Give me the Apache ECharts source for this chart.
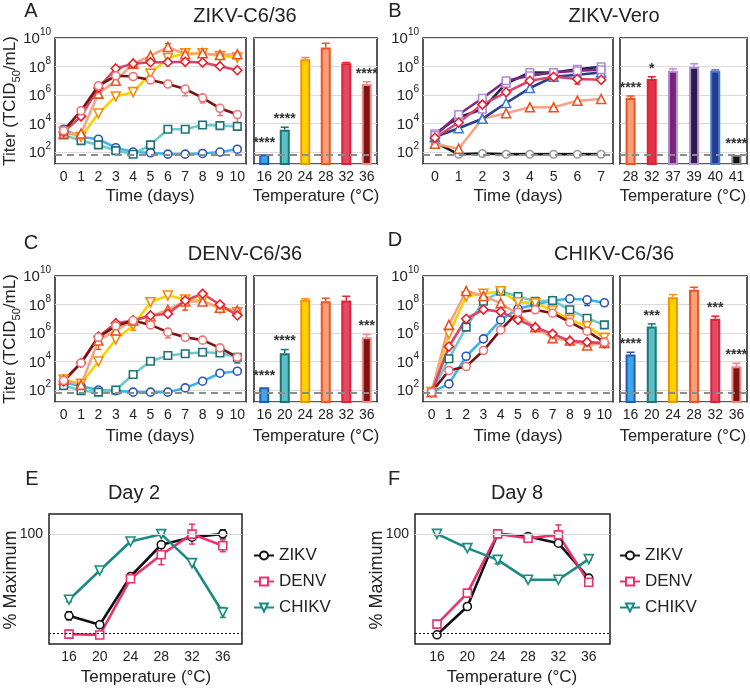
<!DOCTYPE html>
<html><head><meta charset="utf-8">
<script src="https://cdn.jsdelivr.net/npm/echarts@6/dist/echarts.min.js"></script>
<style>html,body{margin:0;padding:0;background:#fff}#c{width:750px;height:689px}</style>
</head><body><div id="c"></div>
<script>
const FONT = 'Liberation Sans, Arial, Helvetica, sans-serif';

// ---------- DATA (log10 titer, TCID50/mL) ----------
const days10 = [0,1,2,3,4,5,6,7,8,9,10];
const days7 = [0,1,2,3,4,5,6,7];
const tempsC636 = ['16','20','24','28','32','36'];
const tempsVero = ['28','32','37','39','40','41'];
const LOD = 1.845; // log10(70)

// A: ZIKV-C6/36
const A16 = [3.6, 3.05, 2.9, 2.3, 2.0, 1.95, 1.85, 1.85, 1.9, 2.0, 2.2];
const A20 = [3.2, 2.8, 2.5, 2.1, 1.84, 2.5, 3.6, 3.6, 3.9, 3.85, 3.8];
const A24 = [3.4, 3.05, 4.7, 5.9, 6.2, 7.5, 8.6, 8.93, 8.93, 8.74, 8.63];
const A28 = [3.3, 3.3, 6.1, 7.0, 8.2, 8.75, 9.37, 8.86, 8.93, 8.81, 8.86];
const A32 = [3.4, 4.5, 6.5, 7.86, 8.2, 8.3, 8.3, 8.33, 8.28, 8.02, 7.74];
const A36 = [3.5, 4.9, 6.65, 7.35, 7.3, 7.05, 6.77, 6.42, 5.8, 5.07, 4.63];
const A_bar = [1.84, 3.56, 8.51, 9.33, 8.23, 6.77];
const A_err = [null, 3.74, 8.63, 9.63, 8.28, 6.93];
const A_sig = ['****', '****', '', '', '', '****'];
// error bars on time courses: day, low, high, temperature
const A_ebDay  = [6, 7, 8, 9, 10];
const A_ebLo   = [9.37, 5.95, 5.45, 4.56, 4.0];
const A_ebHi   = [9.6, 6.42, 5.8, 5.07, 4.63];
const A_ebTemp = ['t28', 't36', 't36', 't36', 't36'];

// B: ZIKV-Vero
const B28 = [2.58, 2.23, 4.33, 4.72, 5.14, 5.14, 5.6, 5.72];
const B32 = [3.0, 4.07, 5.33, 6.19, 7.0, 7.28, 7.12, 7.07];
const B37 = [3.16, 4.63, 5.77, 7.0, 7.35, 7.58, 7.7, 7.77];
const B39 = [3.28, 4.44, 5.0, 6.81, 7.58, 7.58, 7.81, 7.98];
const B40 = [3.05, 3.67, 4.33, 5.44, 6.49, 7.28, 7.42, 7.58];
const B41 = [2.7, 1.84, 1.9, 1.84, 1.84, 1.84, 1.84, 1.84];
const B_bar = [5.79, 7.12, 7.7, 7.98, 7.7, 1.81];
const B_err = [5.93, 7.28, 7.84, 8.19, 7.77, null];
const B_sig = ['****', '*', '', '', '', '****'];
const B_ebDay  = [6];
const B_ebLo   = [6.77];
const B_ebHi   = [7.12];
const B_ebTemp = ['t32'];

// C: DENV-C6/36
const C16 = [2.55, 2.27, 2.0, 1.96, 1.85, 1.85, 1.85, 2.15, 2.62, 3.18, 3.32];
const C20 = [2.32, 1.96, 1.85, 2.0, 3.09, 4.02, 4.42, 4.54, 4.65, 4.6, 4.3];
const C24 = [2.74, 2.43, 4.0, 5.54, 6.53, 8.16, 8.63, 8.35, 8.33, 7.7, 7.46];
const C28 = [2.7, 2.36, 5.47, 6.18, 6.88, 7.16, 7.63, 8.21, 8.21, 7.77, 7.58];
const C32 = [2.6, 3.9, 5.75, 6.69, 6.88, 7.23, 7.35, 8.28, 8.75, 8.0, 7.23];
const C36 = [2.67, 3.9, 5.7, 6.5, 6.88, 6.57, 6.06, 5.7, 5.5, 4.96, 4.3];
const C_bar = [2.2, 4.58, 8.33, 8.23, 8.28, 5.71];
const C_err = [null, 4.84, 8.4, 8.44, 8.58, 5.9];
const C_sig = ['****', '****', '', '', '', '***'];
const C_ebDay  = [2, 7, 4, 6, 10];
const C_ebLo   = [4.85, 7.6, 6.2, 5.66, 3.9];
const C_ebHi   = [5.47, 8.21, 6.53, 6.06, 4.3];
const C_ebTemp = ['t28', 't28', 't24', 't36', 't20'];

// D: CHIKV-C6/36
const D16 = [1.85, 2.43, 4.37, 5.59, 6.92, 7.7, 8.0, 8.28, 8.4, 8.33, 8.12];
const D20 = [1.85, 4.19, 6.41, 8.23, 8.93, 8.56, 8.23, 8.28, 7.63, 7.04, 6.57];
const D24 = [1.85, 5.94, 8.56, 8.75, 8.93, 8.16, 8.1, 7.58, 6.92, 6.48, 5.66];
const D28 = [1.85, 6.57, 8.95, 8.6, 8.1, 7.3, 6.4, 5.64, 5.47, 5.12, 5.3];
const D32 = [1.85, 5.05, 7.0, 7.65, 7.5, 6.92, 6.4, 5.94, 5.45, 5.36, 5.29];
const D36 = [1.85, 3.37, 3.65, 4.77, 6.22, 7.46, 7.63, 7.39, 6.76, 6.13, 5.36];
const D_bar = [4.49, 6.46, 8.51, 9.03, 7.0, 3.67];
const D_err = [4.65, 6.64, 8.7, 9.21, 7.18, 3.88];
const D_sig = ['****', '***', '', '', '***', '****'];
const D_ebDay  = [5, 9, 9];
const D_ebLo   = [8.15, 7.93, 4.9];
const D_ebHi   = [8.56, 8.33, 5.12];
const D_ebTemp = ['t20', 't16', 't28'];

// E / F: % maximum
const tempsEF = [16, 20, 24, 28, 32, 36];
const E_ZIKV = [17.4, 8.4, 57, 89, 96.6, 100];
const E_DENV = [-1, -2, 54.7, 78.9, 99.7, 88];
const E_CHIKV = [33.6, 63, 92.3, 99.7, 70.5, 20.8];
const E_ZIKV_err = [4, 1, 2, 2, 3, 4];
const E_DENV_err = [1, 1, 2, 10, 10, 6];
const E_CHIKV_err = [2, 1, 1, 1, 1, 5];
const F_ZIKV = [-1.7, 26.8, 100, 97.3, 90.6, 55.4];
const F_DENV = [9, 40.3, 100, 95.6, 99, 51.3];
const F_CHIKV = [100, 85.6, 73.8, 53.7, 53.7, 74.5];
const F_ZIKV_err = [1, 1, 1, 1, 1, 3];
const F_DENV_err = [1, 1, 1, 1, 10, 4];
const F_CHIKV_err = [1, 1, 4, 1, 1, 1];

// ---------- STYLES ----------
const ST = {
  t16: {line:'#3cb4ea', mk:'#2c56b2', sym:'circle', size:8},
  t20: {line:'#6fc9cd', mk:'#1e7275', sym:'rect', size:7.5},
  t24: {line:'#f8d200', mk:'#f58c0c', sym:'triangle', size:9, rot:180},
  t28: {line:'#f5a584', mk:'#ee5020', sym:'triangle', size:9},
  t32: {line:'#d8456c', mk:'#e8202c', sym:'diamond', size:9},
  t36: {line:'#7a1414', mk:'#f07272', sym:'circle', size:8},
  t37: {line:'#7c2a82', mk:'#b08ad4', sym:'rect', size:7.5},
  t39: {line:'#2b2050', mk:'#b08ad4', sym:'rect', size:7.5},
  t40: {line:'#2c3c8e', mk:'#3a7ed8', sym:'triangle', size:9},
  t41: {line:'#111111', mk:'#999999', sym:'circle', size:7.5},
  zikv: {line:'#111111', mk:'#111111', sym:'circle', size:8},
  denv: {line:'#e8336f', mk:'#e8336f', sym:'rect', size:8},
  chikv:{line:'#1b8a83', mk:'#1b8a83', sym:'triangle', size:9, rot:180}
};
const C636Fill = ['#3aa8e8','#5bbfc6','#f9d300','#f5a07a','#df4a6c','#7a1512'];
const C636Edge = ['#2a58b0','#1e7478','#f5900a','#ee5320','#e8202c','#f28a8a'];
const VeroFill = ['#f5a07a','#e0304c','#7b2378','#2a1d4e','#283a8a','#111111'];
const VeroEdge = ['#ee5320','#e8202c','#b48fd6','#b48fd6','#3a7ed8','#888888'];

const grids = [
  {left:55, top:38, width:191, height:126},
  {left:254, top:38, width:123, height:126},
  {left:423, top:38, width:190, height:126},
  {left:620, top:38, width:127, height:126},
  {left:55, top:276, width:191, height:126},
  {left:254, top:276, width:123, height:126},
  {left:423, top:276, width:190, height:126},
  {left:620, top:276, width:127, height:126},
  {left:49, top:514, width:193, height:130},
  {left:415, top:514, width:195, height:130}
].map(g => Object.assign({show:true, borderColor:'#222', borderWidth:1.5, backgroundColor:'transparent', containLabel:false}, g));

const isInt = v => Math.abs(v - Math.round(v)) < 1e-6;
const tickLabel = {color:'#222', fontSize:14, fontFamily:FONT};

function xVal(gi, min, max, step) {
  return {type:'value', gridIndex:gi, min, max, minInterval:step, maxInterval:step,
    axisLine:{show:false}, axisTick:{show:false}, splitLine:{show:false},
    axisLabel:Object.assign({margin:6, showMinLabel:true, showMaxLabel:true,
      formatter: v => (isInt(v / step) ? String(Math.round(v)) : '')}, tickLabel)};
}
function xCat(gi, cats) {
  return {type:'category', gridIndex:gi, data:cats, boundaryGap:true,
    axisLine:{show:false}, axisTick:{show:false},
    axisLabel:Object.assign({margin:6, interval:0}, tickLabel)};
}
function yLog(gi, showLabels) {
  return {type:'value', gridIndex:gi, min:1.16, max:10, minInterval:2, maxInterval:2,
    axisLine:{show:false}, axisTick:{show:false},
    splitLine:{show:true, lineStyle:{color:'#dadada', width:1}},
    axisLabel:{show:showLabels, margin:4, color:'#222',
      formatter: v => (isInt(v) && Math.round(v) % 2 === 0 ? '{b|10}{s|' + Math.round(v) + '}' : ''),
      rich:{
        b:{fontSize:15, lineHeight:15, fontFamily:FONT, color:'#222', padding:[4,0,2,0]},
        s:{fontSize:10, lineHeight:10, fontFamily:FONT, color:'#222', padding:[0,0,11,0]}
      }}};
}
function yPct(gi) {
  return {type:'value', gridIndex:gi, min:-11, max:120, minInterval:10, maxInterval:10,
    axisLine:{show:false}, axisTick:{show:false}, splitLine:{show:false},
    axisLabel:Object.assign({margin:6, formatter: v => (Math.abs(v - 100) < 1e-6 ? '100' : '')}, tickLabel)};
}

const lodLine = {silent:true, symbol:['none','none'], label:{show:false}, animation:false,
  lineStyle:{color:'#8c8c8c', type:[7,5], width:2}, data:[{yAxis:LOD}]};

function lineS(name, xs, ys, gi, st, extra) {
  return Object.assign({
    type:'line', name, xAxisIndex:gi, yAxisIndex:gi,
    data: xs.map((x, i) => [x, ys[i]]),
    symbol: st.sym, symbolSize: st.size, symbolRotate: st.rot || 0, showAllSymbol:true,
    lineStyle:{color:st.line, width:2.6},
    itemStyle:{color:'#fff', borderColor:st.mk, borderWidth:1.6},
    emphasis:{disabled:true}, animation:false, z:3, clip:false
  }, extra || {});
}
function barS(gi, vals, fill, edge) {
  return {type:'bar', xAxisIndex:gi, yAxisIndex:gi, barWidth:10, clip:true, animation:false,
    emphasis:{disabled:true}, z:2,
    data: vals.map((v, i) => ({value:v, itemStyle:{color:fill[i], borderColor:edge[i], borderWidth:2}})),
    markLine: lodLine};
}
function barAnno(gi, vals, errs, sig, edge) {
  return {type:'custom', xAxisIndex:gi, yAxisIndex:gi, z:6, silent:true, animation:false, clip:false,
    data: vals.map((v, i) => [i, v, errs[i] == null ? v : errs[i]]),
    renderItem(params, api) {
      const i = params.dataIndex;
      const top = api.coord([i, api.value(1)]);
      const hi = api.coord([i, api.value(2)]);
      const ch = [];
      const hasErr = api.value(2) > api.value(1);
      if (hasErr) {
        ch.push({type:'line', shape:{x1:top[0], y1:top[1], x2:hi[0], y2:hi[1]}, style:{stroke:edge[i], lineWidth:1.5}});
        ch.push({type:'line', shape:{x1:hi[0]-4, y1:hi[1], x2:hi[0]+4, y2:hi[1]}, style:{stroke:edge[i], lineWidth:1.5}});
      }
      if (sig[i]) {
        ch.push({type:'text', x:hi[0], y:hi[1] - (hasErr ? 8 : 11), style:{text:sig[i], fill:'#333',
          fontSize:14, fontWeight:'bold', fontFamily:FONT, align:'center', verticalAlign:'middle'}});
      }
      return {type:'group', children:ch};
    }};
}
function errS(gi, xs, ys, es, color) {
  return {type:'custom', xAxisIndex:gi, yAxisIndex:gi, z:2, silent:true, animation:false,
    data: xs.map((x, i) => [x, ys[i], es[i]]),
    renderItem(params, api) {
      const x = api.value(0), y = api.value(1), e = api.value(2);
      const lo = api.coord([x, y - e]), hi = api.coord([x, y + e]);
      return {type:'group', children:[
        {type:'line', shape:{x1:lo[0], y1:lo[1], x2:hi[0], y2:hi[1]}, style:{stroke:color, lineWidth:1.5}},
        {type:'line', shape:{x1:hi[0]-3, y1:hi[1], x2:hi[0]+3, y2:hi[1]}, style:{stroke:color, lineWidth:1.5}},
        {type:'line', shape:{x1:lo[0]-3, y1:lo[1], x2:lo[0]+3, y2:lo[1]}, style:{stroke:color, lineWidth:1.5}}
      ]};
    }};
}
function rangeErrS(gi, days, lo, hi, temps) {
  return {type:'custom', xAxisIndex:gi, yAxisIndex:gi, z:2, silent:true, animation:false,
    data: days.map((d, i) => [d, lo[i], hi[i]]),
    renderItem(params, api) {
      const c = ST[temps[params.dataIndex]].mk;
      const d = api.value(0);
      const p0 = api.coord([d, api.value(1)]), p1 = api.coord([d, api.value(2)]);
      return {type:'group', children:[
        {type:'line', shape:{x1:p0[0], y1:p0[1], x2:p1[0], y2:p1[1]}, style:{stroke:c, lineWidth:1.5}},
        {type:'line', shape:{x1:p0[0]-3, y1:p0[1], x2:p0[0]+3, y2:p0[1]}, style:{stroke:c, lineWidth:1.5}},
        {type:'line', shape:{x1:p1[0]-3, y1:p1[1], x2:p1[0]+3, y2:p1[1]}, style:{stroke:c, lineWidth:1.5}}
      ]};
    }};
}

const refLinesEF = {silent:true, symbol:['none','none'], label:{show:false}, animation:false,
  data:[{yAxis:100, lineStyle:{color:'#d8d8d8', width:1, type:'solid'}}, {yAxis:0, lineStyle:{color:'#111', width:1, type:[2,2]}}]};

const series = [
  // A
  lineS('A16', days10, A16, 0, ST.t16, {markLine: lodLine}),
  lineS('A20', days10, A20, 0, ST.t20),
  lineS('A24', days10, A24, 0, ST.t24),
  lineS('A28', days10, A28, 0, ST.t28),
  lineS('A32', days10, A32, 0, ST.t32),
  lineS('A36', days10, A36, 0, ST.t36),
  rangeErrS(0, A_ebDay, A_ebLo, A_ebHi, A_ebTemp),
  barS(1, A_bar, C636Fill, C636Edge),
  barAnno(1, A_bar, A_err, A_sig, C636Edge),
  // B
  lineS('B41', days7, B41, 2, ST.t41, {markLine: lodLine}),
  lineS('B28', days7, B28, 2, ST.t28),
  lineS('B40', days7, B40, 2, ST.t40),
  lineS('B39', days7, B39, 2, ST.t39),
  lineS('B37', days7, B37, 2, ST.t37),
  lineS('B32', days7, B32, 2, ST.t32),
  rangeErrS(2, B_ebDay, B_ebLo, B_ebHi, B_ebTemp),
  barS(3, B_bar, VeroFill, VeroEdge),
  barAnno(3, B_bar, B_err, B_sig, VeroEdge),
  // C
  lineS('C16', days10, C16, 4, ST.t16, {markLine: lodLine}),
  lineS('C20', days10, C20, 4, ST.t20),
  lineS('C24', days10, C24, 4, ST.t24),
  lineS('C28', days10, C28, 4, ST.t28),
  lineS('C32', days10, C32, 4, ST.t32),
  lineS('C36', days10, C36, 4, ST.t36),
  rangeErrS(4, C_ebDay, C_ebLo, C_ebHi, C_ebTemp),
  barS(5, C_bar, C636Fill, C636Edge),
  barAnno(5, C_bar, C_err, C_sig, C636Edge),
  // D
  lineS('D16', days10, D16, 6, ST.t16, {markLine: lodLine}),
  lineS('D20', days10, D20, 6, ST.t20),
  lineS('D24', days10, D24, 6, ST.t24),
  lineS('D28', days10, D28, 6, ST.t28),
  lineS('D32', days10, D32, 6, ST.t32),
  lineS('D36', days10, D36, 6, ST.t36),
  rangeErrS(6, D_ebDay, D_ebLo, D_ebHi, D_ebTemp),
  barS(7, D_bar, C636Fill, C636Edge),
  barAnno(7, D_bar, D_err, D_sig, C636Edge),
  // E
  errS(8, tempsEF, E_ZIKV, E_ZIKV_err, ST.zikv.line),
  errS(8, tempsEF, E_DENV, E_DENV_err, ST.denv.line),
  errS(8, tempsEF, E_CHIKV, E_CHIKV_err, ST.chikv.line),
  lineS('ZIKV', tempsEF, E_ZIKV, 8, ST.zikv, {markLine: refLinesEF}),
  lineS('DENV', tempsEF, E_DENV, 8, ST.denv),
  lineS('CHIKV', tempsEF, E_CHIKV, 8, ST.chikv),
  // F
  errS(9, tempsEF, F_ZIKV, F_ZIKV_err, ST.zikv.line),
  errS(9, tempsEF, F_DENV, F_DENV_err, ST.denv.line),
  errS(9, tempsEF, F_CHIKV, F_CHIKV_err, ST.chikv.line),
  lineS('ZIKV', tempsEF, F_ZIKV, 9, ST.zikv, {markLine: refLinesEF}),
  lineS('DENV', tempsEF, F_DENV, 9, ST.denv),
  lineS('CHIKV', tempsEF, F_CHIKV, 9, ST.chikv)
];

function T(text, x, y, size, extra) {
  return {type:'text', x, y, silent:true, z:10,
    style:Object.assign({text, fontSize:size, fontFamily:FONT, fill:'#222', align:'center', verticalAlign:'middle'}, extra || {})};
}
function R(text, x, y, size, extra) {
  const t = T(text, x, y, size, extra); t.rotation = Math.PI / 2; return t;
}
const titerRich = {
  a:{fontSize:17, lineHeight:17, fontFamily:FONT, fill:'#222', padding:[0,0,4,0]},
  u:{fontSize:11, lineHeight:11, fontFamily:FONT, fill:'#222', padding:[10,0,0,0]}
};
const titerText = '{a|Titer (TCID}{u|50}{a|/mL)}';

const graphic = [
  T('A', 31, 11, 20), T('B', 395, 11, 20), T('C', 31, 243, 20), T('D', 395, 240, 20), T('E', 32, 479, 20), T('F', 394, 479, 20),
  T('ZIKV-C6/36', 245, 16, 20), T('ZIKV-Vero', 614, 16, 20), T('DENV-C6/36', 245, 254, 20), T('CHIKV-C6/36', 614, 254, 20),
  T('Day 2', 134, 493, 20), T('Day 8', 517, 493, 20),
  T('Time (days)', 150, 196, 17), T('Temperature (°C)', 316, 196, 16.5),
  T('Time (days)', 518, 196, 17), T('Temperature (°C)', 683, 196, 16.5),
  T('Time (days)', 150, 436, 17), T('Temperature (°C)', 316, 436, 16.5),
  T('Time (days)', 518, 436, 17), T('Temperature (°C)', 683, 436, 16.5),
  T('Temperature (°C)', 146, 677, 17), T('Temperature (°C)', 512, 677, 17),
  R(titerText, 12, 101, 17, {rich:titerRich}), R(titerText, 12, 339, 17, {rich:titerRich}),
  R('% Maximum', 11, 580, 18), R('% Maximum', 377, 580, 18)
];

const legendBase = {data:['ZIKV','DENV','CHIKV'], orient:'vertical', itemWidth:20, itemHeight:10, itemGap:9,
  selectedMode:false, padding:0, textStyle:{fontSize:17, color:'#222', fontFamily:FONT}};

const option = {
  animation:false,
  backgroundColor:'#fff',
  grid: grids,
  xAxis: [
    xVal(0, -0.5, 10.5, 1), xCat(1, tempsC636), xVal(2, -0.5, 7.5, 1), xCat(3, tempsVero),
    xVal(4, -0.5, 10.5, 1), xCat(5, tempsC636), xVal(6, -0.5, 10.5, 1), xCat(7, tempsC636),
    xVal(8, 13.4, 38.5, 4), xVal(9, 13.1, 38.8, 4)
  ],
  yAxis: [
    yLog(0, true), yLog(1, false), yLog(2, true), yLog(3, false),
    yLog(4, true), yLog(5, false), yLog(6, true), yLog(7, false),
    yPct(8), yPct(9)
  ],
  legend: [
    Object.assign({left:253, top:547}, legendBase),
    Object.assign({left:619, top:547}, legendBase)
  ],
  series,
  graphic
};

const chart = echarts.init(document.getElementById('c'), null, {renderer:'canvas'});
chart.setOption(option);
</script></body></html>
